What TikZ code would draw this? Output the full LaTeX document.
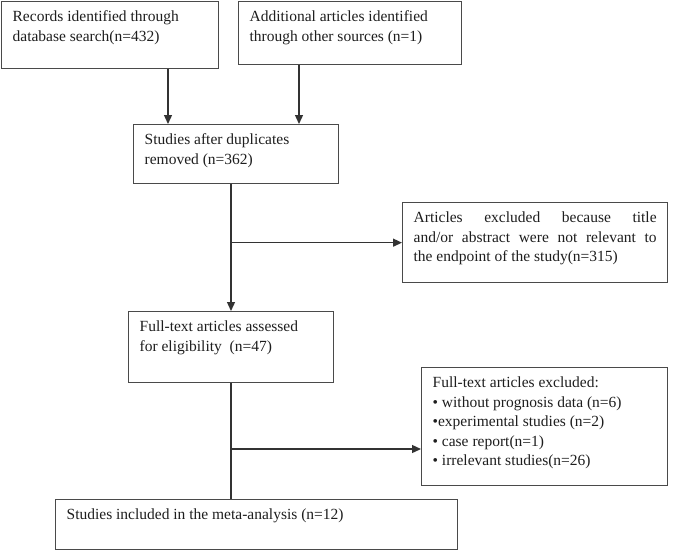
\documentclass[tikz,border=0pt]{standalone}
\usepackage{fontspec}
\setmainfont{Liberation Serif}
\usetikzlibrary{arrows.meta}
\definecolor{flowline}{HTML}{333333}
\definecolor{flowedge}{HTML}{4A4A4A}
\definecolor{flowtext}{HTML}{1E1E1E}
\newcommand{\boxlines}[3]{\parbox[t][#2pt][t]{#1pt}{\strut #3}}

\begin{document}
\begin{tikzpicture}[x=1pt, y=-1pt,
  flowbox/.style={draw=flowedge, line width=1.3pt, anchor=north west,
    inner xsep=11pt, inner ysep=6.5pt, text=flowtext,
    font=\fontsize{15.5}{19.5}\selectfont},
  arr/.style={draw=flowline, line width=1.3pt, -{Triangle[length=9pt,width=8pt]}},
  link/.style={draw=flowline, line width=1.3pt}]
  \useasboundingbox (0,0) rectangle (675,550);
  % identification
  \node[flowbox] (rec) at (1,1)
    {\boxlines{195}{54}{Records identified through\\database search(n=432)}};
  \node[flowbox] (oth) at (238,1)
    {\boxlines{201}{50}{Additional articles identified\\through other sources (n=1)}};
  % screening
  \node[flowbox] (dup) at (133,124)
    {\boxlines{183}{46}{Studies after duplicates\\removed (n=362)}};
  \node[flowbox] (tiab) at (402,202)
    {\boxlines{243}{67}{Articles excluded because title\linebreak
      and/or abstract were not relevant to\linebreak
      the endpoint of the study(n=315)}};
  % eligibility
  \node[flowbox] (full) at (128,311)
    {\boxlines{183}{58}{Full-text articles assessed\\for eligibility\ \ (n=47)}};
  \node[flowbox] (fexc) at (421,367)
    {\boxlines{224}{105}{Full-text articles excluded:\\
      \textbullet\ without prognosis data (n=6)\\
      \textbullet experimental studies (n=2)\\
      \textbullet\ case report(n=1)\\
      \textbullet\ irrelevant studies(n=26)}};
  % included
  \node[flowbox] (incl) at (55,499)
    {\boxlines{380}{37}{Studies included in the meta-analysis (n=12)}};
  % connectors
  \coordinate (leftdrop) at (168,0);
  \coordinate (rightdrop) at (299,0);
  \coordinate (trunk) at (231,0);
  \coordinate (fork2) at (0,449);
  \draw[arr] (leftdrop |- rec.south) -- (leftdrop |- dup.north);
  \draw[arr] (rightdrop |- oth.south) -- (rightdrop |- dup.north);
  \draw[arr] (trunk |- dup.south) -- (trunk |- full.north);
  \draw[arr] (trunk |- tiab.west) -- (tiab.west);
  \draw[link] (trunk |- full.south) -- (trunk |- incl.north);
  \draw[arr] (trunk |- fork2) -- (fork2 -| fexc.west);
\end{tikzpicture}
\end{document}
